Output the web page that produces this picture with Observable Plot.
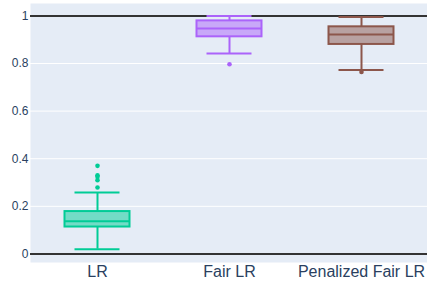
<!DOCTYPE html>
<html><head><meta charset="utf-8">
<script src="https://cdn.jsdelivr.net/npm/d3@7"></script>
<script src="https://cdn.jsdelivr.net/npm/@observablehq/plot@0.6"></script>
<style>body{margin:0;background:#fff;font-family:"Liberation Sans",Arial,sans-serif}</style>
</head><body><div id="chart"></div>
<script>
const models = ["LR", "Fair LR", "Penalized Fair LR"];
const colors = ["#00cc96", "#ab63fa", "#8c564b"];
const q1 = [0.113, 0.912, 0.880];
const median = [0.137, 0.947, 0.922];
const q3 = [0.178, 0.979, 0.954];
const lowerWhisker = [0.020, 0.842, 0.773];
const upperWhisker = [0.258, 1.000, 0.995];
const outlierModel = ["LR", "LR", "LR", "LR", "LR", "Fair LR", "Penalized Fair LR"];
const outlierValue = [0.370, 0.330, 0.324, 0.310, 0.279, 0.797, 0.764];
const yTicks = [0, 0.2, 0.4, 0.6, 0.8, 1];

const boxes = models.map((m, i) => ({model: m, color: colors[i], q1: q1[i], median: median[i], q3: q3[i], lo: lowerWhisker[i], hi: upperWhisker[i]}));
const outliers = outlierModel.map((m, i) => ({model: m, value: outlierValue[i], color: colors[models.indexOf(m)]}));

const chart = Plot.plot({
  width: 427, height: 286,
  marginLeft: 30, marginRight: 0, marginTop: 3, marginBottom: 24,
  style: {fontFamily: "'Liberation Sans', Arial, sans-serif", color: "#2a3f5f", background: "#fff"},
  x: {domain: models, padding: 0, label: null},
  y: {domain: [-0.036, 1.052], label: null},
  marks: [
    Plot.frame({fill: "#e5ecf6", stroke: null}),
    Plot.ruleY(yTicks, {stroke: "#fff", strokeWidth: 1}),
    Plot.ruleY([0, 1], {stroke: "#333", strokeWidth: 2}),
    Plot.ruleX(boxes, {x: "model", y1: "lo", y2: "q1", stroke: "color", strokeWidth: 2}),
    Plot.ruleX(boxes, {x: "model", y1: "q3", y2: "hi", stroke: "color", strokeWidth: 2}),
    Plot.tickY(boxes, {x: "model", y: "lo", stroke: "color", strokeWidth: 2, insetLeft: 43.5, insetRight: 43.5}),
    Plot.tickY(boxes, {x: "model", y: "hi", stroke: "color", strokeWidth: 2, insetLeft: 43.5, insetRight: 43.5}),
    Plot.barY(boxes, {x: "model", y1: "q1", y2: "q3", fill: "color", fillOpacity: 0.5, stroke: "color", strokeWidth: 2, insetLeft: 33.5, insetRight: 33.5}),
    Plot.tickY(boxes, {x: "model", y: "median", stroke: "color", strokeWidth: 2, insetLeft: 33.5, insetRight: 33.5}),
    Plot.dot(outliers, {x: "model", y: "value", fill: "color", r: 2.3, stroke: null}),
    Plot.axisY({ticks: yTicks, tickSize: 0, tickPadding: 2, fontSize: 12, tickFormat: d => String(d), label: null}),
    Plot.axisX({tickSize: 0, tickPadding: 3, fontSize: 16, label: null})
  ]
});
document.getElementById("chart").append(chart);
</script></body></html>
